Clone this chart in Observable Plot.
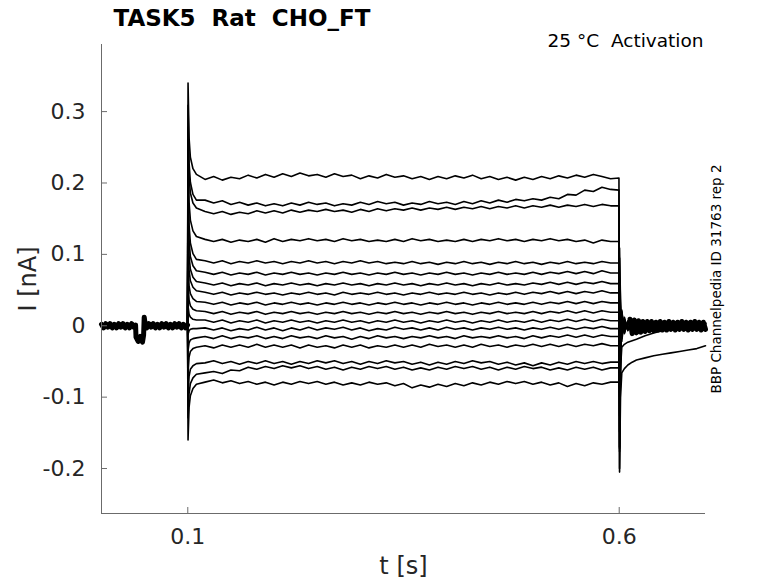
<!DOCTYPE html>
<html><head><meta charset="utf-8">
<script src="https://cdn.jsdelivr.net/npm/d3@7"></script>
<script src="https://cdn.jsdelivr.net/npm/@observablehq/plot@0.6"></script>
<style>body{margin:0;background:#fff} svg text{white-space:pre}</style>
</head><body><div id="chart"></div>
<script>
const xDomain = [0, 0.7];
const yDomain = [-0.263, 0.394];
const xTicks = [0.1, 0.6];
const xTickLabels = ["0.1", "0.6"];
const yTicks = [-0.2, -0.1, 0, 0.1, 0.2, 0.3];
const yTickLabels = ["-0.2", "-0.1", "0", "0.1", "0.2", "0.3"];

// holding current before the step (all sweeps overlap here)
const baseT = [0,0.0025,0.005,0.0075,0.01,0.0125,0.015,0.0175,0.02,0.0225,0.025,0.0275,0.03,0.0325,0.035,0.0375,0.0395,0.040,0.0425,0.045,0.0475,0.0488,0.0495,0.0505,0.0525,0.055,0.0575,0.06,0.0625,0.065,0.0675,0.07,0.0725,0.075,0.0775,0.08,0.0825,0.085,0.0875,0.09,0.0925,0.095,0.0975,0.0997];
const baseI = [0.002,-0.003,0.003,-0.002,0.003,-0.003,0.002,-0.003,0.003,-0.002,0.003,-0.003,0.002,-0.003,0.003,-0.002,0.001,-0.016,-0.022,-0.015,-0.023,-0.013,0.012,0.003,-0.003,0.003,-0.002,0.003,-0.003,0.002,-0.003,0.003,-0.002,0.003,-0.003,0.002,-0.003,0.003,-0.002,0.003,-0.003,0.002,-0.003,0.001];

// holding current after the step, where the sweeps overlap again
const postT = [0.6125,0.615,0.6175,0.62,0.6225,0.625,0.6275,0.63,0.6325,0.635,0.6375,0.64,0.6425,0.645,0.6475,0.65,0.6525,0.655,0.6575,0.66,0.6625,0.665,0.6675,0.67,0.6725,0.675,0.6775,0.68,0.6825,0.685,0.6875,0.69,0.6925,0.695,0.6975,0.70];
const postI = [0.009,-0.011,0.008,-0.010,0.007,-0.009,0.006,-0.008,0.006,-0.007,0.006,-0.007,0.005,-0.006,0.006,-0.006,0.005,-0.006,0.006,-0.005,0.005,-0.006,0.005,-0.005,0.006,-0.005,0.005,-0.006,0.005,-0.005,0.006,-0.005,0.005,-0.006,0.005,-0.005];

// sample times of each sweep (step onset, plateau, step offset and tail)
const tSweep = [0.1003,0.1015,0.103,0.106,0.11,
 0.12,0.13,0.14,0.15,0.16,0.17,0.18,0.19,0.20,0.21,0.22,0.23,0.24,0.25,0.26,0.27,0.28,0.29,0.30,0.31,0.32,0.33,0.34,0.35,0.36,0.37,0.38,0.39,0.40,0.41,0.42,0.43,0.44,0.45,0.46,0.47,0.48,0.49,0.50,0.51,0.52,0.53,0.54,0.55,0.56,0.57,0.58,0.59,
 0.5997,0.6004,0.6015,0.603,0.606,0.61,0.615,0.62,0.63,0.64,0.65,0.66,0.67,0.68,0.69,0.70];

const sweep01 = [.340,.263,.236,.220,.212,
 .205,.209,.204,.208,.206,.211,.207,.212,.208,.213,.209,.214,.210,.212,.208,.213,.209,.211,.206,.210,.207,.212,.208,.210,.206,.209,.205,.209,.206,.210,.207,.211,.206,.209,.205,.208,.204,.208,.205,.209,.206,.210,.207,.211,.208,.212,.209,.206,
 .207,-.205,-.100,-.066,-.060,-.055,-.051,-.048,-.045,-.042,-.040,-.038,-.036,-.034,-.032,-.028];
const sweep02 = [.309,.228,.201,.184,.176,
 .176,.172,.175,.170,.173,.169,.172,.168,.171,.168,.172,.169,.173,.170,.172,.168,.171,.169,.173,.170,.174,.171,.173,.169,.172,.170,.174,.171,.173,.170,.174,.171,.175,.172,.176,.173,.177,.175,.178,.176,.180,.178,.184,.183,.190,.188,.194,.191,
 .190,-.200,-.060,-.030,-.026,-.023,-.021,-.019,-.014,-.010,-.007,-.005,-.004,-.003,-.002,-.003];
const sweep03 = [.278,.210,.186,.172,.165,
 .160,.157,.160,.156,.159,.157,.161,.158,.161,.158,.162,.159,.162,.160,.163,.160,.162,.159,.163,.160,.164,.161,.164,.162,.165,.162,.165,.163,.166,.163,.166,.164,.167,.164,.167,.165,.168,.165,.168,.166,.169,.166,.169,.167,.170,.167,.170,.168,
 .168,-.172,-.050,.020,-.010,.006,-.004,.004,-.003,.004,-.004,.003,-.004,.004,-.003,.003];
const sweep04 = [.246,.173,.148,.133,.125,
 .121,.118,.121,.117,.120,.118,.121,.117,.122,.118,.121,.119,.122,.119,.121,.118,.122,.119,.121,.118,.120,.118,.121,.118,.122,.119,.121,.118,.120,.118,.121,.118,.121,.119,.122,.119,.121,.118,.121,.119,.122,.119,.121,.118,.120,.116,.120,.118,
 .118,-.176,-.052,.022,-.011,.007,-.005,.003,-.004,.003,-.003,.004,-.003,.004,-.004,.002];
const sweep05 = [.215,.141,.116,.101,.093,
 .091,.088,.091,.087,.090,.088,.091,.088,.090,.087,.090,.088,.091,.088,.090,.087,.090,.088,.091,.088,.090,.087,.089,.087,.090,.087,.089,.086,.089,.087,.090,.087,.089,.086,.089,.087,.090,.087,.089,.086,.089,.087,.090,.087,.089,.087,.090,.088,
 .088,-.170,-.048,.018,-.008,.005,-.003,.005,-.002,.004,-.004,.003,-.003,.004,-.002,.004];
const sweep06 = [.184,.120,.097,.084,.077,
 .075,.072,.075,.071,.074,.072,.075,.071,.074,.072,.075,.072,.074,.071,.074,.072,.075,.072,.074,.071,.074,.072,.075,.072,.074,.071,.074,.072,.075,.072,.074,.071,.074,.072,.075,.072,.074,.072,.075,.072,.075,.073,.076,.073,.076,.073,.077,.074,
 .074,-.148,-.042,.016,-.009,.004,-.005,.002,-.004,.003,-.003,.005,-.003,.003,-.004,.003];
const sweep07 = [.153,.098,.079,.068,.062,
 .060,.057,.060,.056,.059,.057,.060,.056,.059,.057,.060,.057,.059,.056,.059,.057,.060,.057,.059,.056,.059,.057,.060,.057,.059,.056,.059,.057,.060,.057,.059,.056,.059,.057,.060,.057,.059,.057,.060,.058,.061,.058,.061,.058,.061,.059,.062,.059,
 .059,-.126,-.036,.014,-.007,.006,-.004,.004,-.003,.004,-.004,.002,-.004,.003,-.003,.004];
const sweep08 = [.121,.078,.063,.054,.049,
 .047,.044,.047,.043,.046,.044,.047,.044,.046,.043,.046,.044,.047,.044,.046,.043,.047,.044,.046,.044,.047,.044,.046,.043,.046,.044,.047,.044,.046,.044,.047,.044,.046,.043,.046,.044,.047,.044,.047,.045,.048,.045,.048,.045,.048,.046,.049,.046,
 .046,-.099,-.028,.012,-.006,.004,-.003,.003,-.004,.003,-.003,.004,-.002,.004,-.003,.003];
const sweep09 = [.090,.056,.045,.038,.034,
 .033,.030,.033,.029,.032,.030,.033,.029,.032,.030,.033,.030,.032,.029,.032,.030,.033,.030,.032,.029,.032,.030,.033,.030,.032,.029,.032,.030,.033,.030,.032,.029,.032,.030,.033,.030,.032,.030,.033,.030,.033,.031,.034,.031,.034,.031,.034,.032,
 .032,-.076,-.022,.010,-.005,.003,-.004,.004,-.003,.002,-.004,.003,-.003,.004,-.004,.002];
const sweep10 = [.059,.036,.028,.023,.021,
 .020,.017,.020,.016,.019,.017,.020,.016,.019,.017,.020,.017,.019,.016,.019,.017,.020,.017,.019,.016,.019,.017,.020,.017,.019,.016,.019,.017,.020,.017,.019,.016,.019,.017,.020,.017,.019,.017,.020,.017,.020,.018,.021,.018,.021,.018,.021,.019,
 .019,-.052,-.016,.008,-.004,.004,-.003,.003,-.004,.004,-.002,.003,-.004,.003,-.003,.004];
const sweep11 = [.028,.016,.012,.009,.008,
 .008,.005,.008,.004,.007,.005,.008,.004,.007,.005,.008,.005,.007,.004,.007,.005,.008,.005,.007,.004,.007,.005,.008,.005,.007,.004,.007,.005,.008,.005,.007,.004,.007,.005,.008,.005,.007,.005,.008,.005,.008,.006,.009,.006,.009,.006,.009,.007,
 .007,-.027,-.008,.005,-.003,.003,-.004,.004,-.002,.003,-.003,.004,-.003,.002,-.004,.003];
const sweep12 = [-.012,-.007,-.005,-.004,-.004,
 -.003,-.006,-.003,-.007,-.004,-.006,-.002,-.006,-.003,-.007,-.003,-.006,-.002,-.006,-.003,-.005,-.002,-.006,-.003,-.007,-.004,-.006,-.002,-.005,-.003,-.006,-.003,-.006,-.002,-.005,-.003,-.006,-.003,-.005,-.002,-.005,-.003,-.006,-.003,-.005,-.002,-.005,-.002,-.005,-.002,-.004,-.001,-.004,
 -.004,.001,.002,-.003,.003,-.004,.003,-.003,.004,-.003,.003,-.004,.002,-.003,.004,-.003];
const sweep13 = [-.035,-.024,-.020,-.018,-.017,
 -.015,-.018,-.014,-.018,-.015,-.017,-.014,-.018,-.015,-.018,-.014,-.017,-.015,-.018,-.014,-.017,-.015,-.019,-.015,-.018,-.014,-.017,-.015,-.018,-.015,-.017,-.014,-.017,-.015,-.018,-.014,-.017,-.015,-.017,-.014,-.017,-.015,-.018,-.014,-.017,-.014,-.016,-.013,-.016,-.013,-.016,-.013,-.015,
 -.015,.026,.010,-.006,.004,-.003,.004,-.003,.003,-.004,.004,-.002,.003,-.004,.003,-.003];
const sweep14 = [-.066,-.044,-.036,-.032,-.030,
 -.028,-.031,-.027,-.030,-.027,-.030,-.026,-.030,-.027,-.030,-.027,-.031,-.027,-.030,-.028,-.031,-.027,-.030,-.027,-.031,-.028,-.030,-.027,-.030,-.027,-.030,-.026,-.029,-.027,-.030,-.027,-.030,-.026,-.029,-.027,-.030,-.027,-.029,-.026,-.029,-.026,-.029,-.026,-.029,-.026,-.028,-.025,-.028,
 -.028,.051,.018,-.010,.006,-.004,.003,-.004,.004,-.003,.002,-.004,.003,-.003,.004,-.003];
const sweep15 = [-.098,-.071,-.061,-.056,-.053,
 -.052,-.049,-.053,-.050,-.054,-.050,-.053,-.049,-.053,-.050,-.054,-.050,-.053,-.049,-.052,-.049,-.053,-.050,-.054,-.050,-.053,-.049,-.052,-.050,-.054,-.051,-.055,-.051,-.054,-.050,-.053,-.049,-.052,-.050,-.054,-.051,-.055,-.052,-.056,-.052,-.055,-.051,-.054,-.050,-.053,-.050,-.053,-.051,
 -.051,.067,.024,-.014,.008,-.005,.004,-.003,.003,-.004,.003,-.003,.004,-.002,.003,-.004];
const sweep16 = [-.129,-.095,-.081,-.073,-.068,
 -.066,-.064,-.067,-.062,-.063,-.058,-.061,-.057,-.060,-.056,-.059,-.056,-.060,-.057,-.061,-.058,-.062,-.058,-.061,-.057,-.060,-.057,-.061,-.058,-.062,-.059,-.062,-.058,-.061,-.057,-.060,-.057,-.061,-.058,-.062,-.058,-.061,-.057,-.060,-.058,-.062,-.059,-.062,-.058,-.061,-.058,-.062,-.059,
 -.059,.095,.030,-.018,.010,-.006,.003,-.004,.004,-.003,.004,-.003,.002,-.004,.003,-.003];
const sweep17 = [-.160,-.114,-.098,-.088,-.082,
 -.079,-.076,-.080,-.077,-.081,-.078,-.082,-.079,-.083,-.079,-.082,-.078,-.081,-.078,-.082,-.079,-.083,-.080,-.083,-.079,-.082,-.080,-.084,-.081,-.087,-.083,-.086,-.082,-.085,-.081,-.084,-.080,-.083,-.079,-.082,-.078,-.081,-.078,-.082,-.079,-.083,-.080,-.085,-.081,-.084,-.080,-.082,-.079,
 -.079,.109,.034,-.022,.012,-.007,.005,-.003,.003,-.004,.003,-.004,.003,-.003,.004,-.003];

const sweeps = [sweep01,sweep02,sweep03,sweep04,sweep05,sweep06,sweep07,sweep08,sweep09,sweep10,sweep11,sweep12,sweep13,sweep14,sweep15,sweep16,sweep17];

const baseRows = baseT.map((t, j) => ({t, i: baseI[j]}));
const postRows = postT.map((t, j) => ({t, i: postI[j]}));
const sweepRows = sweeps.flatMap((s, k) => [
  {t: baseT[baseT.length - 1], i: baseI[baseI.length - 1], k},
  ...tSweep.map((t, j) => ({t, i: s[j], k}))
]);

const font = "DejaVu Sans";
const dark = "#262626";
const axisGrey = "#6b6b6b";

const chart = Plot.plot({
  width: 778, height: 583,
  marginLeft: 101, marginRight: 73, marginTop: 44, marginBottom: 70,
  style: {fontFamily: font, background: "#fff"},
  x: {domain: xDomain},
  y: {domain: yDomain},
  marks: [
    Plot.line(baseRows, {x: "t", y: "i", stroke: "#000", strokeWidth: 5}),
    Plot.line(postRows, {x: "t", y: "i", stroke: "#000", strokeWidth: 5}),
    Plot.line(sweepRows, {x: "t", y: "i", z: "k", stroke: "#000", strokeWidth: 1.6}),
    Plot.ruleX([xDomain[0]], {stroke: axisGrey}),
    Plot.ruleY([yDomain[0]], {stroke: axisGrey}),
    Plot.axisY({ticks: yTicks, tickSize: -6, tickPadding: 22, stroke: axisGrey, fill: dark, fontSize: 22,
      tickFormat: (d) => yTickLabels[yTicks.indexOf(d)], label: null}),
    Plot.axisX({ticks: xTicks, tickSize: -6, tickPadding: 21, stroke: axisGrey, fill: dark, fontSize: 22,
      tickFormat: (d) => xTickLabels[xTicks.indexOf(d)], label: null}),
    Plot.text(["I [nA]"], {frameAnchor: "left", dx: -73, rotate: -90, textAnchor: "middle", lineAnchor: "middle", fontSize: 24, fill: dark}),
    Plot.text(["t [s]"], {frameAnchor: "bottom", dy: 53, textAnchor: "middle", lineAnchor: "middle", fontSize: 24, fill: dark}),
    Plot.text(["TASK5  Rat  CHO_FT"], {frameAnchor: "top-left", dx: 12, dy: -26, textAnchor: "start", lineAnchor: "middle", fontSize: 23, fontWeight: "bold", fill: "#000"}),
    Plot.text(["25 °C  Activation"], {frameAnchor: "top-right", dx: -2, dy: -3, textAnchor: "end", lineAnchor: "middle", fontSize: 18.5, fill: "#000"}),
    Plot.text(["BBP Channelpedia ID 31763 rep 2"], {frameAnchor: "right", dx: 11, rotate: -90, textAnchor: "middle", lineAnchor: "middle", fontSize: 13.5, fill: "#000"})
  ]
});
document.getElementById("chart").appendChild(chart);
</script>
</body></html>
